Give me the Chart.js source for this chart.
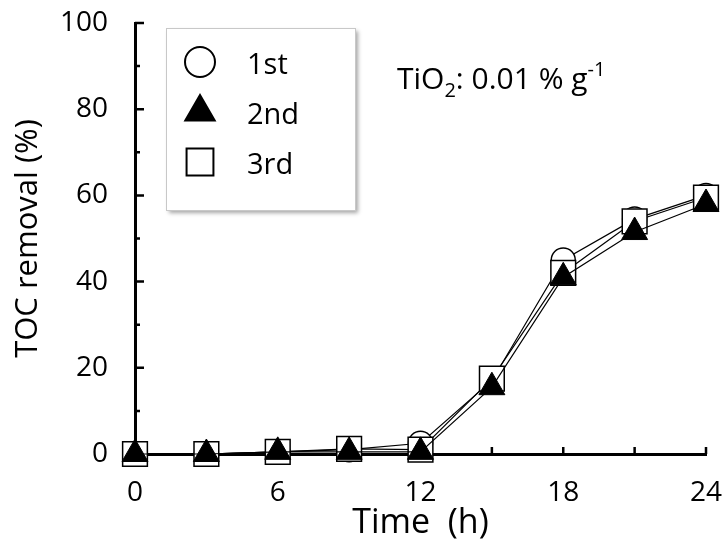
<!DOCTYPE html>
<html>
<head>
<meta charset="utf-8">
<script src="https://cdn.jsdelivr.net/npm/chart.js@4.4.1/dist/chart.umd.min.js"></script>
<style>
  html, body { margin: 0; padding: 0; background: #fff; }
</style>
</head>
<body>
<canvas id="tocChart" width="725" height="546"></canvas>
<script>
// Tiempos de muestreo (h) y remoción de TOC (%) en cada ciclo
const hours = [0, 3, 6, 9, 12, 15, 18, 21, 24];
const run1 = [0, 0, 0.5, 1, 2.5, 17, 45, 54.5, 60];
const run2 = [0, 0, 0.5, 0.5, 0.5, 15.5, 41, 51.5, 58];
const run3 = [0, 0, 0.5, 1.2, 1, 17.5, 42, 54, 59.5];
const runLabels = ['1st', '2nd', '3rd'];
const xTickValues = [0, 6, 12, 18, 24];
const yTickValues = [0, 20, 40, 60, 80, 100];

const FONT = "'Open Sans', sans-serif";
const toPoints = vals => hours.map((h, i) => ({ x: h, y: vals[i] }));

// Marcas de las escalas hacia dentro (mayores y menores)
const inwardTicks = {
    id: 'inwardTicks',
    beforeDatasetsDraw(chart) {
        const { ctx, scales: { x, y }, chartArea: a } = chart;
        ctx.save();
        ctx.strokeStyle = '#000';
        ctx.lineWidth = 2.5;
        ctx.beginPath();
        for (let v = 3; v <= 24; v += 3) {
            const px = x.getPixelForValue(v);
            ctx.moveTo(px, a.bottom);
            ctx.lineTo(px, a.bottom - 7);
        }
        for (let v = 10; v <= 100; v += 10) {
            const py = y.getPixelForValue(v);
            const len = v % 20 === 0 ? 9 : 5;
            ctx.moveTo(a.left, py);
            ctx.lineTo(a.left + len, py);
        }
        ctx.stroke();
        ctx.restore();
    }
};

// Leyenda en recuadro con sombra, dentro del área del gráfico
const boxLegend = {
    id: 'boxLegend',
    afterDraw(chart) {
        const { ctx } = chart;
        const bx = 166, by = 28, bw = 189, bh = 182;
        ctx.save();
        ctx.shadowColor = 'rgba(0,0,0,0.35)';
        ctx.shadowBlur = 4;
        ctx.shadowOffsetX = 3;
        ctx.shadowOffsetY = 3;
        ctx.fillStyle = '#fff';
        ctx.fillRect(bx, by, bw, bh);
        ctx.restore();

        ctx.save();
        ctx.strokeStyle = '#c8c8c8';
        ctx.lineWidth = 1;
        ctx.strokeRect(bx + 0.5, by + 0.5, bw, bh);
        const markerSizes = [15, 17, 19];
        chart.data.datasets.forEach((ds, i) => {
            const cy = 62 + i * 50;
            ctx.fillStyle = ds.pointBackgroundColor;
            ctx.strokeStyle = ds.pointBorderColor;
            ctx.lineWidth = 2;
            Chart.helpers.drawPoint(ctx, {
                pointStyle: ds.pointStyle, radius: markerSizes[i], borderWidth: 2, rotation: 0
            }, 200, cy);
            ctx.fillStyle = '#000';
            ctx.font = `29px ${FONT}`;
            ctx.textBaseline = 'alphabetic';
            ctx.fillText(ds.label, 247, cy + 12);
        });
        ctx.restore();
    }
};

// Nota de la dosis de catalizador con subíndice y superíndice
const doseNote = {
    id: 'doseNote',
    afterDraw(chart) {
        const { ctx } = chart;
        ctx.save();
        ctx.fillStyle = '#000';
        ctx.textBaseline = 'alphabetic';
        const big = `30px ${FONT}`, small = `20px ${FONT}`;
        const parts = [['TiO', big, 0], ['2', small, 8], [': 0.01 % g', big, 0], ['-1', small, -13]];
        let x = 397;
        parts.forEach(([t, f, dy]) => {
            ctx.font = f;
            ctx.fillText(t, x, 89 + dy);
            x += ctx.measureText(t).width;
        });
        ctx.restore();
    }
};

const ctx = document.getElementById('tocChart').getContext('2d');
const chart = new Chart(ctx, {
    type: 'line',
    data: {
        datasets: [
            {
                label: runLabels[0], data: toPoints(run1), order: 3,
                pointStyle: 'circle', pointRadius: 12,
                pointBackgroundColor: '#fff', pointBorderColor: '#000', pointBorderWidth: 1.5,
                borderColor: '#000', borderWidth: 1.2, clip: false
            },
            {
                label: runLabels[1], data: toPoints(run2), order: 1,
                pointStyle: 'triangle', pointRadius: 15,
                pointBackgroundColor: '#000', pointBorderColor: '#000', pointBorderWidth: 1,
                borderColor: '#000', borderWidth: 1.2, clip: false
            },
            {
                label: runLabels[2], data: toPoints(run3), order: 2,
                pointStyle: 'rect', pointRadius: 17.5,
                pointBackgroundColor: '#fff', pointBorderColor: '#000', pointBorderWidth: 1.5,
                borderColor: '#000', borderWidth: 1.2, clip: false
            }
        ]
    },
    options: {
        responsive: false,
        animation: false,
        layout: { padding: { top: 23, right: 18, left: 0, bottom: 0 } },
        plugins: {
            legend: { display: false },
            tooltip: { enabled: false }
        },
        scales: {
            x: {
                type: 'linear', min: 0, max: 24,
                afterBuildTicks: s => { s.ticks = xTickValues.map(v => ({ value: v })); },
                afterFit: s => {
                    s.height = 92;
                    s.paddingLeft = 0;
                    s.paddingRight = 0;
                },
                grid: { display: false, drawTicks: false },
                border: { display: true, color: '#000', width: 3 },
                ticks: { color: '#000', font: { family: FONT, size: 28 }, padding: 22 },
                title: {
                    display: true, text: 'Time  (h)', color: '#000',
                    font: { family: FONT, size: 34 }, padding: { top: 2, bottom: 2 }
                }
            },
            y: {
                min: 0, max: 100,
                afterBuildTicks: s => { s.ticks = yTickValues.map(v => ({ value: v })); },
                afterFit: s => {
                    s.width = 135;
                    s.paddingTop = 0;
                    s.paddingBottom = 0;
                },
                grid: { display: false, drawTicks: false },
                border: { display: true, color: '#000', width: 3 },
                ticks: { color: '#000', font: { family: FONT, size: 28 }, padding: 27 },
                title: {
                    display: true, text: 'TOC removal (%)', color: '#000',
                    font: { family: FONT, size: 31 }, padding: { top: 10, bottom: 10 }
                }
            }
        }
    },
    plugins: [inwardTicks, boxLegend, doseNote]
});
</script>
</body>
</html>
